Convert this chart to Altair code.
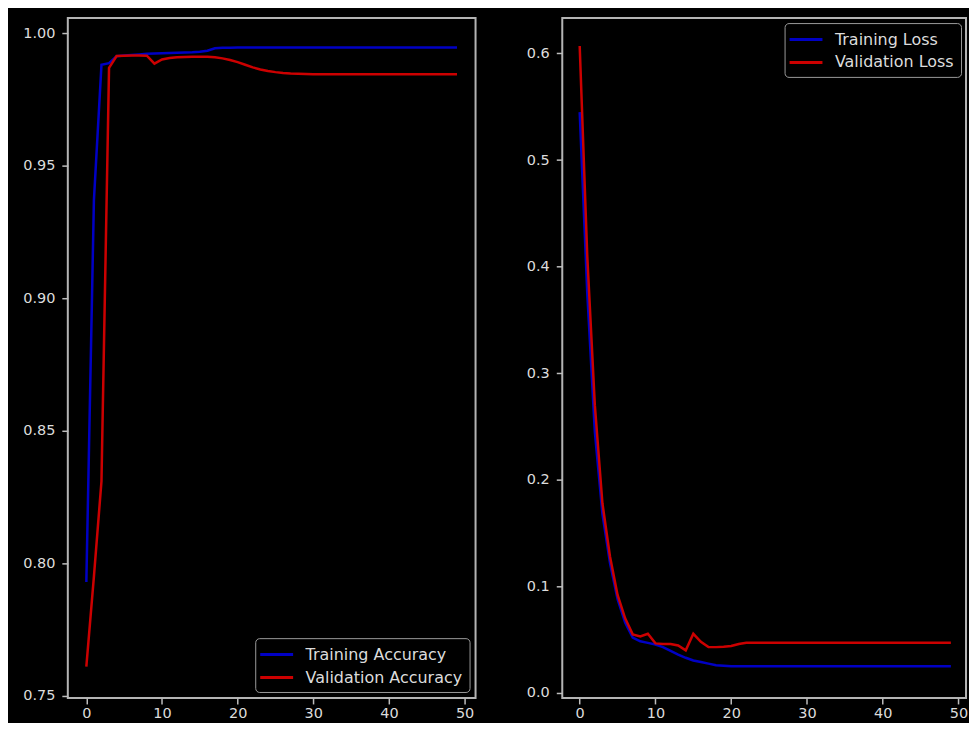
import altair as alt
import pandas as pd

epochs = list(range(50))

train_acc = [0.793, 0.937, 0.9882, 0.9888, 0.9914, 0.9917, 0.9919, 0.9921, 0.9923, 0.9924,
             0.9925, 0.9926, 0.9927, 0.9928, 0.9929, 0.9931, 0.9935, 0.9944, 0.9946, 0.9946] + [0.9947] * 30
val_acc = [0.761, 0.795, 0.831, 0.987, 0.9915, 0.9916, 0.9917, 0.9917, 0.9916, 0.9886,
           0.9902, 0.9907, 0.9910, 0.9911, 0.9912, 0.9912, 0.9912, 0.9910, 0.9906, 0.9900,
           0.9892, 0.9882, 0.9872, 0.9864, 0.9858, 0.9854, 0.9851, 0.9849, 0.9848, 0.9847] + [0.9846] * 20

train_loss = [0.545, 0.375, 0.245, 0.168, 0.122, 0.088, 0.066, 0.052, 0.0485, 0.047,
              0.0455, 0.043, 0.0395, 0.036, 0.033, 0.0305, 0.029, 0.0275, 0.026, 0.0255] + [0.025] * 30
val_loss = [0.607, 0.41, 0.27, 0.178, 0.128, 0.092, 0.070, 0.055, 0.053, 0.0555,
            0.0465, 0.046, 0.046, 0.0445, 0.040, 0.0555, 0.048, 0.043, 0.043, 0.0434,
            0.044, 0.046, 0.047] + [0.0472] * 27

acc_names = ["Training Accuracy", "Validation Accuracy"]
loss_names = ["Training Loss", "Validation Loss"]
x_ticks = [0, 10, 20, 30, 40, 50]
acc_ticks = [0.75, 0.80, 0.85, 0.90, 0.95, 1.00]
loss_ticks = [0.0, 0.1, 0.2, 0.3, 0.4, 0.5, 0.6]
line_colors = ["#0000c4", "#cc0000"]

acc_df = pd.DataFrame({
    "epoch": epochs + epochs,
    "value": train_acc + val_acc,
    "series": [acc_names[0]] * len(epochs) + [acc_names[1]] * len(epochs),
})
loss_df = pd.DataFrame({
    "epoch": epochs + epochs,
    "value": train_loss + val_loss,
    "series": [loss_names[0]] * len(epochs) + [loss_names[1]] * len(epochs),
})

FONT = "DejaVu Sans"
FS = 14.5
LEG_FS = 16
LABEL_C = "#dcdcdc"
TICK_C = "#bdbdbd"


def x_enc(domain):
    return alt.X("epoch:Q",
                 scale=alt.Scale(domain=domain, nice=False, zero=False),
                 axis=alt.Axis(values=x_ticks, title=None, grid=False, domain=False,
                               tickColor=TICK_C, tickSize=6, tickWidth=1.5,
                               labelColor=LABEL_C, labelFontSize=FS, labelFont=FONT,
                               labelPadding=3, format="d", labelFlush=False,
                               labelOverlap=False, minExtent=23, maxExtent=23))


def y_enc(domain, ticks, fmt):
    return alt.Y("value:Q",
                 scale=alt.Scale(domain=domain, nice=False, zero=False),
                 axis=alt.Axis(values=ticks, title=None, grid=False, domain=False,
                               tickColor=TICK_C, tickSize=6, tickWidth=1.5,
                               labelColor=LABEL_C, labelFontSize=FS, labelFont=FONT,
                               labelPadding=7, format=fmt, labelFlush=False,
                               labelOverlap=False, minExtent=46, maxExtent=46))


def legend(orient, offset):
    return alt.Legend(title=None, orient=orient, offset=offset,
                      fillColor="black", strokeColor="#9a9a9a", cornerRadius=4,
                      padding=6.5, labelFont=FONT, labelFontSize=LEG_FS, labelColor=LABEL_C,
                      symbolType="M-2,0L2,0", symbolSize=272, symbolStrokeWidth=3,
                      symbolOffset=5, labelOffset=19, rowPadding=5, labelLimit=400)


acc_chart = alt.Chart(acc_df).mark_line(strokeWidth=2.5).encode(
    x=x_enc([-2.45, 51.45]),
    y=y_enc([0.7492, 1.0058], acc_ticks, ".2f"),
    color=alt.Color("series:N",
                    scale=alt.Scale(domain=acc_names, range=line_colors),
                    legend=legend("bottom-right", 6)),
).properties(width=409, height=682)

loss_chart = alt.Chart(loss_df).mark_line(strokeWidth=2.5).encode(
    x=x_enc([-2.3, 51.0]),
    y=y_enc([-0.0047, 0.6332], loss_ticks, ".1f"),
    color=alt.Color("series:N",
                    scale=alt.Scale(domain=loss_names, range=line_colors),
                    legend=legend("top-right", 5)),
).properties(width=405, height=682)

chart = alt.hconcat(acc_chart, loss_chart, spacing=39).resolve_scale(
    color="independent"
).properties(
    background="black",
    padding={"left": 13, "top": 8, "right": 0, "bottom": 0},
).configure_view(
    stroke="#b4b4b4", strokeWidth=2, fill="black"
)

chart.save("out.html", embed_options={"renderer": "svg", "actions": False})
